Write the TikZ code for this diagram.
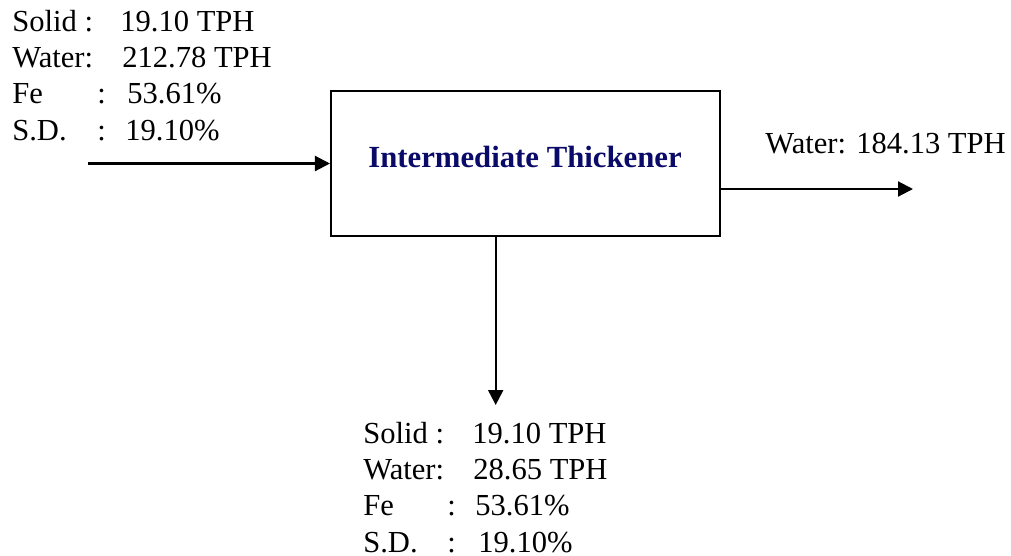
\documentclass[tikz,border=0pt]{standalone}
\usepackage{fontspec}
\setmainfont{Liberation Serif}
\usetikzlibrary{arrows.meta}
\definecolor{thickblue}{RGB}{10,10,105}
\tikzset{
  unitbox/.style={draw, line width=1.2pt, minimum width=7.78cm, minimum height=2.9cm, inner sep=0pt},
  flowtext/.style={align=left, inner sep=0pt, font=\fontsize{17.4}{20.5}\selectfont},
  titletext/.style={inner sep=0pt, text=thickblue, font=\fontsize{17.5}{20}\selectfont\bfseries},
  flow/.style={->, line width=1.2pt}
}
\begin{document}
\begin{tikzpicture}[x=0.02cm, y=-0.02cm, >={Triangle[length=3mm,width=3mm]}]
	\useasboundingbox (0,0) rectangle (1011,555);
	\node[unitbox] (thick) at (525.5,163.5) {};
	\node[titletext, anchor=base] (title) at (525,167) {Intermediate Thickener};
	\coordinate (feed) at (88,163.5);
	\coordinate (over) at (913,189);
	\coordinate (under) at (495.7,405);
	\draw[flow] (feed) -- (feed -| thick.west);
	\draw[flow] (thick.east |- over) -- (over);
	\draw[flow] (thick.south -| under) -- (under);
	% base anchor sits on the last line
	\node[flowtext, anchor=base west] (feedtext) at (12,140) {%
		\makebox[2.16cm][l]{Solid :}19.10 TPH\\
		\makebox[2.2cm][l]{Water:}212.78 TPH\\
		\makebox[1.7cm][l]{Fe}\makebox[0.6cm][l]{:}53.61\%\\
		\makebox[1.7cm][l]{S.D.}\makebox[0.56cm][l]{:}19.10\%};
	\node[flowtext, anchor=base west] (overtext) at (765,153) {Water: 184.13 TPH};
	\node[flowtext, anchor=base west] (undertext) at (363,552) {%
		\makebox[2.18cm][l]{Solid :}19.10 TPH\\
		\makebox[2.2cm][l]{Water:}28.65 TPH\\
		\makebox[1.68cm][l]{Fe}\makebox[0.56cm][l]{:}53.61\%\\
		\makebox[1.68cm][l]{S.D.}\makebox[0.62cm][l]{:}19.10\%};
\end{tikzpicture}
\end{document}
